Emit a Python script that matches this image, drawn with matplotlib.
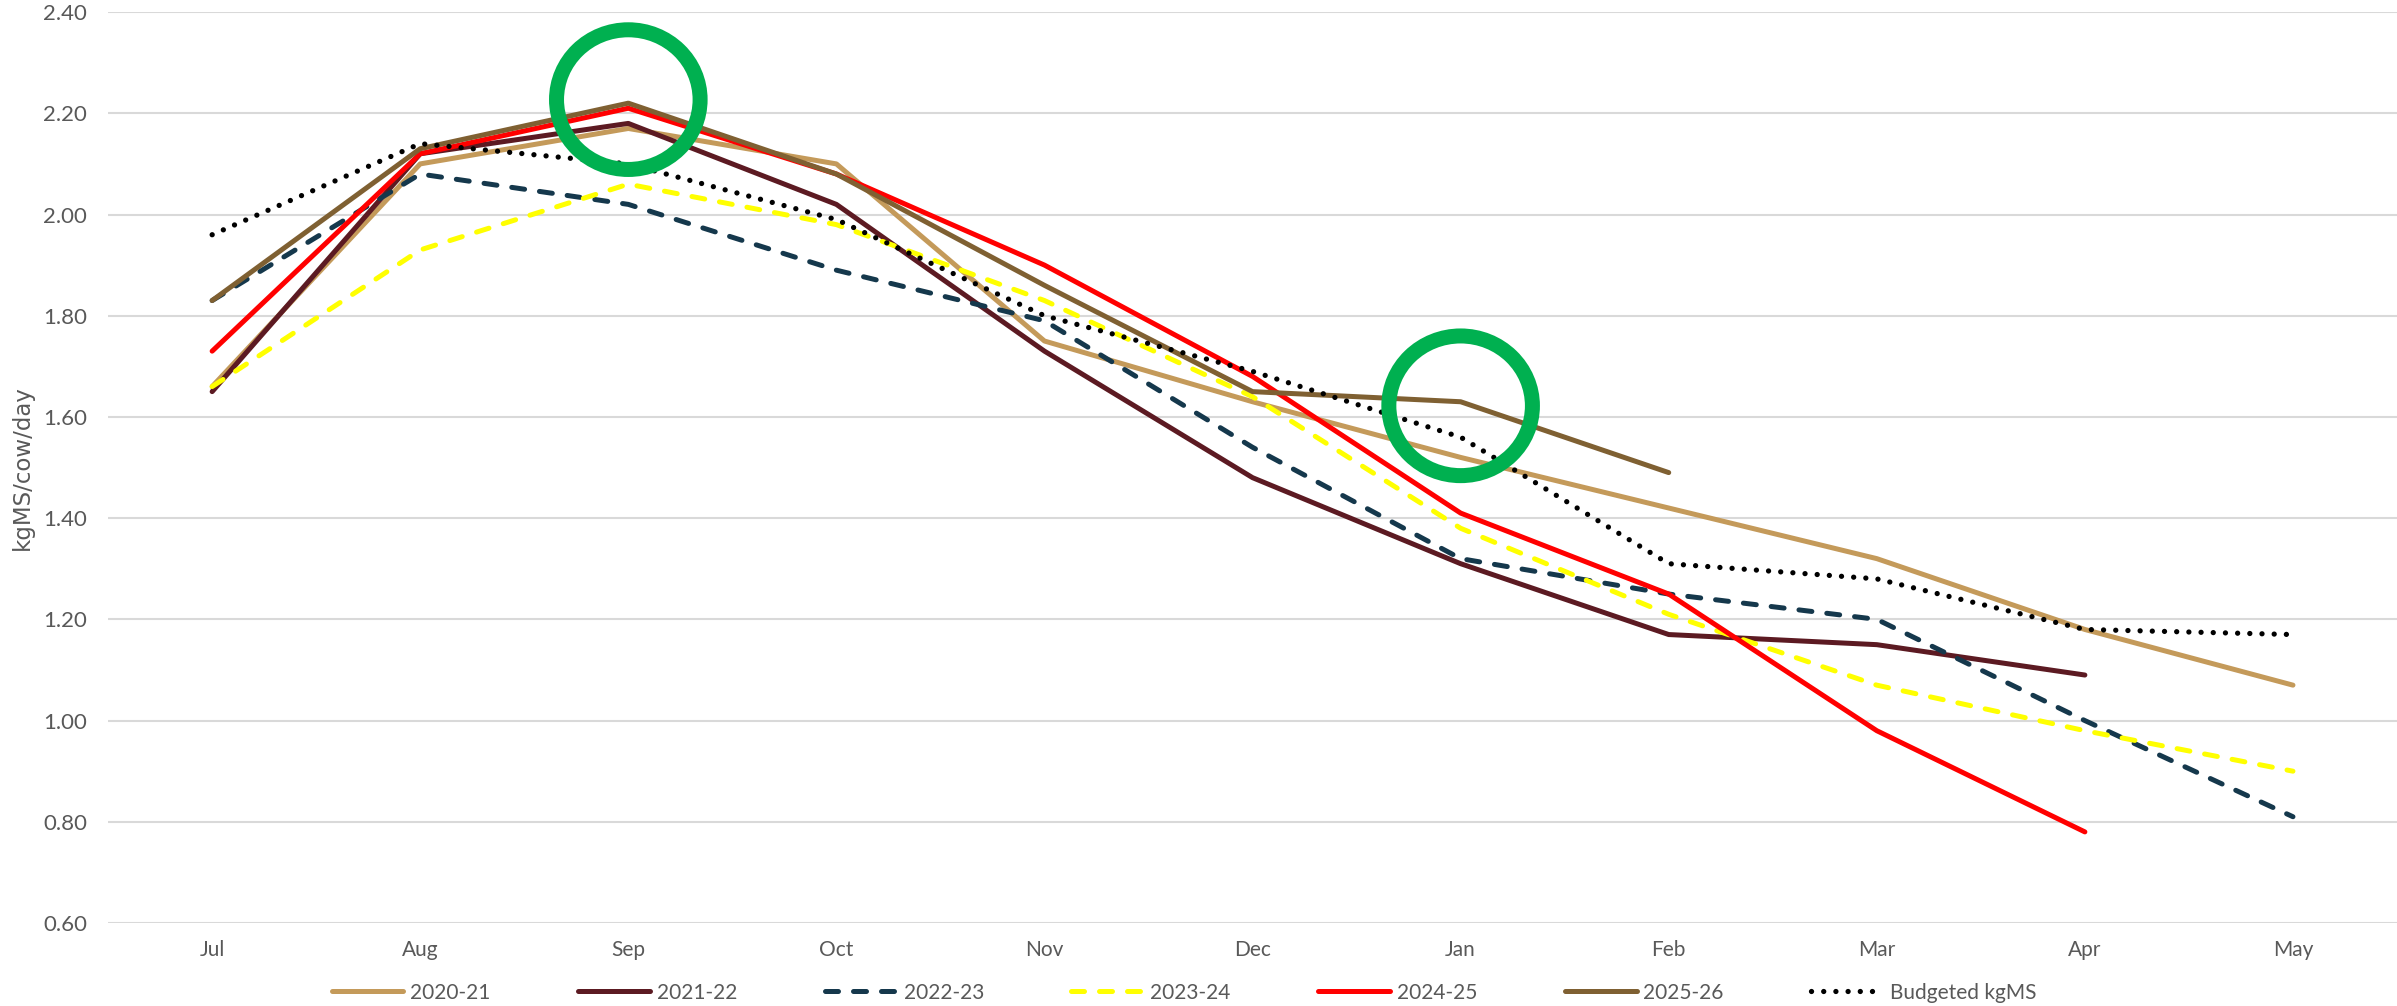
import matplotlib
matplotlib.use("Agg")

import matplotlib.pyplot as plt
from matplotlib.patches import Ellipse

# monthly milk solids per cow, by season
months = ["Jul", "Aug", "Sep", "Oct", "Nov", "Dec", "Jan", "Feb", "Mar", "Apr", "May"]
s2020_21 = [1.66, 2.10, 2.17, 2.10, 1.75, 1.63, 1.52, 1.42, 1.32, 1.18, 1.07]
s2021_22 = [1.65, 2.12, 2.18, 2.02, 1.73, 1.48, 1.31, 1.17, 1.15, 1.09]
s2022_23 = [1.83, 2.08, 2.02, 1.89, 1.79, 1.54, 1.32, 1.25, 1.20, 1.00, 0.81]
s2023_24 = [1.66, 1.93, 2.06, 1.98, 1.83, 1.64, 1.38, 1.21, 1.07, 0.98, 0.90]
s2024_25 = [1.73, 2.12, 2.21, 2.08, 1.90, 1.68, 1.41, 1.25, 0.98, 0.78]
s2025_26 = [1.83, 2.13, 2.22, 2.08, 1.86, 1.65, 1.63, 1.49]
budget = [1.96, 2.14, 2.10, 1.99, 1.80, 1.69, 1.56, 1.31, 1.28, 1.18, 1.17]

y_ticks = [0.60, 0.80, 1.00, 1.20, 1.40, 1.60, 1.80, 2.00, 2.20, 2.40]

# highlighted points (month index, value)
highlights = [(2, 2.227), (6, 1.622)]

TEXT = "#595959"
plt.rcParams["font.family"] = ["Lato", "DejaVu Sans"]

fig = plt.figure(figsize=(23.97, 10.06), dpi=100)
ax = fig.add_axes([0.0451, 0.0825, 0.9549, 0.9055])

x = list(range(len(months)))
lw = 3.6
dash = (0, (2.6, 3.0))

ax.plot(x[:len(s2020_21)], s2020_21, color="#C49A5A", lw=lw, solid_capstyle="round", label="2020-21", zorder=3)
ax.plot(x[:len(s2021_22)], s2021_22, color="#5C1A22", lw=lw, solid_capstyle="round", label="2021-22", zorder=3)
ax.plot(x[:len(s2022_23)], s2022_23, color="#15384C", lw=lw, linestyle=dash,
        dash_capstyle="round", label="2022-23", zorder=3)
ax.plot(x[:len(s2023_24)], s2023_24, color="#FFFF00", lw=lw, linestyle=dash,
        dash_capstyle="round", label="2023-24", zorder=3)
ax.plot(x[:len(s2024_25)], s2024_25, color="#FF0000", lw=lw, solid_capstyle="round", label="2024-25", zorder=3)
ax.plot(x[:len(s2025_26)], s2025_26, color="#7F6032", lw=lw, solid_capstyle="round", label="2025-26", zorder=3)
ax.plot(x[:len(budget)], budget, color="black", lw=3.8, linestyle=(0, (0.01, 2.3)),
        dash_capstyle="round", label="Budgeted kgMS", zorder=4)

for cx, cy in highlights:
    ax.add_patch(Ellipse((cx, cy), 0.69, 0.276, fill=False, edgecolor="#00B050",
                         lw=10.8, zorder=6))

ax.set_xlim(-0.5, len(months) - 0.5)
ax.set_ylim(0.6, 2.4)
ax.set_xticks(x)
ax.set_xticklabels(months)
ax.set_yticks(y_ticks)
ax.set_yticklabels([f"{v:.2f}" for v in y_ticks])
ax.tick_params(axis="both", length=0, colors=TEXT)
ax.tick_params(axis="y", pad=15, labelsize=16)
ax.tick_params(axis="x", pad=12, labelsize=15)

ax.grid(axis="y", color="#D9D9D9", lw=1.5, zorder=0)
ax.set_axisbelow(True)
for s in ax.spines.values():
    s.set_visible(False)

ax.set_ylabel("kgMS/cow/day", color=TEXT, fontsize=16.5, family=["DejaVu Sans"])
ax.yaxis.set_label_coords(-0.0323, 0.5)

leg = fig.legend(loc="center", bbox_to_anchor=(0.494, 0.0134), ncol=7, frameon=False,
                 fontsize=15, handlelength=3.45, handletextpad=0.33, columnspacing=4.2,
                 labelcolor=TEXT)

fig.savefig("out.png", dpi=100)
